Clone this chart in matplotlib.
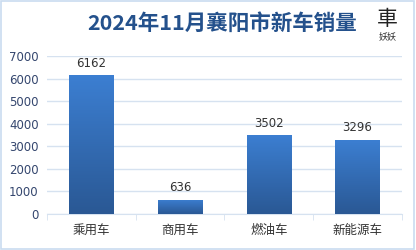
import numpy as np
import matplotlib
matplotlib.use('Agg')
import matplotlib.pyplot as plt
from matplotlib.patches import Rectangle
from matplotlib.colors import LinearSegmentedColormap

plt.rcParams['font.family'] = ['Noto Sans CJK SC', 'DejaVu Sans']

# 数据
categories = ['乘用车', '商用车', '燃油车', '新能源车']
values = [6162, 636, 3502, 3296]
yticks = [0, 1000, 2000, 3000, 4000, 5000, 6000, 7000]
title = '2024年11月襄阳市新车销量'

fig = plt.figure(figsize=(4.16, 2.5), dpi=100)
fig.patch.set_facecolor('white')

# 外框
fig.patches.append(Rectangle((0.003, 0.006), 0.992, 0.99, transform=fig.transFigure,
                             fill=False, edgecolor='#c9dcf0', linewidth=1.2))

ax = fig.add_axes([0.113, 0.144, 0.853, 0.632])
x = np.arange(len(categories))
bars = ax.bar(x, values, width=0.5, color='none', zorder=3)

# 渐变填充
cmap = LinearSegmentedColormap.from_list('g', ['#2a5894', '#3c7fd2'])
grad = np.linspace(0, 1, 256).reshape(-1, 1)
for b in bars:
    x0, w, h = b.get_x(), b.get_width(), b.get_height()
    im = ax.imshow(grad, cmap=cmap, aspect='auto', origin='lower',
                   extent=[x0, x0 + w, 0, h], zorder=3)
    im.set_clip_path(b)

for xi, v in zip(x, values):
    ax.text(xi, v + 230, str(v), ha='center', va='bottom', fontsize=8.5,
            color='#333333', family=['DejaVu Sans'])

ax.set_xlim(-0.5, len(categories) - 0.5)
ax.set_ylim(0, 7000)
ax.set_yticks(yticks)
ax.set_yticklabels([str(t) for t in yticks], fontsize=8.5, color='#34466e',
                   family=['DejaVu Sans'])
ax.grid(axis='y', color='#d6e2f0', linewidth=1, zorder=0)
ax.set_xticks(x)
ax.set_xticklabels(categories, fontsize=9, color='#333333')
ax.set_xticks(np.arange(-0.5, len(categories)), minor=True)
ax.tick_params(axis='x', which='major', length=0, pad=7)
ax.tick_params(axis='x', which='minor', length=4, color='#d6e2f0')
ax.tick_params(axis='y', length=0, pad=6)
for s in ['top', 'right', 'left']:
    ax.spines[s].set_visible(False)
ax.spines['bottom'].set_color('#d6e2f0')

fig.text(0.534, 0.905, title, ha='center', va='center', fontsize=15.5,
         fontweight='bold', color='#24518c')

# 标志
fig.text(0.932, 0.925, '車', ha='center', va='center', fontsize=15,
         color='#222222', family=['Noto Sans CJK TC'])
fig.text(0.932, 0.855, '妖妖', ha='center', va='center', fontsize=6.5,
         color='#333333')

fig.savefig('out.png', dpi=100)
